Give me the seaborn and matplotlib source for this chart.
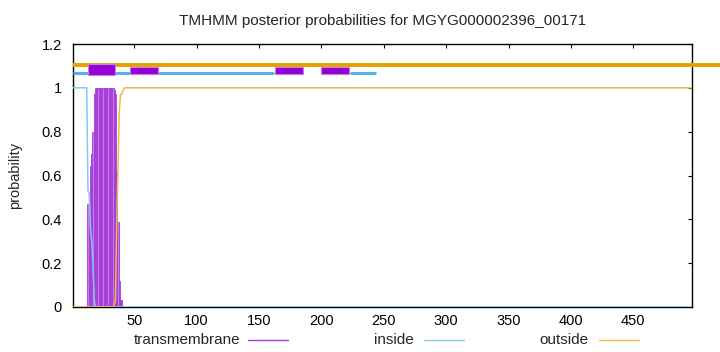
import matplotlib
matplotlib.use("Agg")
import matplotlib.pyplot as plt
from matplotlib.lines import Line2D
from matplotlib.patches import Rectangle
import seaborn as sns
import pandas as pd

# ---- data ----
title = "TMHMM posterior probabilities for MGYG000002396_00171"
seq_len = 497
residues = list(range(1, 46)) + [497]
inside = [1.0] * 12 + [0.53, 0.52, 0.355, 0.30, 0.20, 0.03] + [0.0] * 27 + [0.0]
transmembrane = [0.0] * 12 + [0.47, 0.47, 0.645, 0.70, 0.80, 0.97] + [1.0] * 15 + \
    [0.99, 0.97, 0.62, 0.39, 0.12, 0.03, 0.03] + [0.0] * 5 + [0.0]
outside = [0.0] * 18 + [0.0] * 15 + [0.01, 0.03, 0.38, 0.61, 0.88, 0.97, 0.97, 0.985, 1.0, 1.0, 1.0, 1.0] + [1.0]

# topology bars on top
outside_segments = [(1, 520)]
inside_segments = [(1, 162), (223, 244)]
tm_boxes = [(13, 35), (47, 69), (163, 185), (200, 222)]
tm_box_bottom = [1.060, 1.064, 1.064, 1.064]
tm_box_top = [1.110, 1.097, 1.097, 1.097]
outside_level = 1.106
inside_level = 1.068

xticks = [50, 100, 150, 200, 250, 300, 350, 400, 450]
yticks = [0, 0.2, 0.4, 0.6, 0.8, 1.0, 1.2]
ytick_labels = ["0", "0.2", "0.4", "0.6", "0.8", "1", "1.2"]
legend_labels = ["transmembrane", "inside", "outside"]

# ---- style ----
sns.set_style("white")
plt.rcParams["font.family"] = ["Liberation Sans", "DejaVu Sans"]
plt.rcParams["font.size"] = 10

c_tm_fill = "#c47ae8"
c_tm_edge = "#a23ad8"
c_inside = "#86c8ee"
c_outside = "#f2b84a"
c_out_top = "#e69f00"
c_in_top = "#56b4e9"
c_box = "#9400d3"

fig = plt.figure(figsize=(7.2, 3.52), dpi=100)
ax = fig.add_axes([73 / 720, 1 - 307 / 352, (692 - 73) / 720, (307 - 44) / 352])

df = pd.DataFrame({"residue": residues, "inside": inside,
                   "transmembrane": transmembrane, "outside": outside})

# TM posterior as per-residue bars
tm_df = df[df["residue"] <= 45]
ax.bar(tm_df["residue"], tm_df["transmembrane"], width=1.0, color=c_tm_fill,
       edgecolor=c_tm_edge, linewidth=0.6, zorder=2)

sns.lineplot(data=df, x="residue", y="inside", ax=ax, color=c_inside, lw=1.1, zorder=3)
sns.lineplot(data=df, x="residue", y="outside", ax=ax, color=c_outside, lw=1.1, zorder=3)

# topology lines on top
for s, e in outside_segments:
    ax.plot([s, e], [outside_level, outside_level], color=c_out_top, lw=2.8,
            solid_capstyle="butt", clip_on=False, zorder=4)
for s, e in inside_segments:
    ax.plot([s, e], [inside_level, inside_level], color=c_in_top, lw=2.2,
            solid_capstyle="butt", clip_on=False, zorder=4)
for (s, e), b, t in zip(tm_boxes, tm_box_bottom, tm_box_top):
    ax.add_patch(Rectangle((s, b), e - s, t - b, facecolor=c_box,
                           edgecolor="#c47ee6", lw=0.8, zorder=5, clip_on=False))

ax.set_xlim(1, seq_len)
ax.set_ylim(0, 1.2)
ax.set_xticks(xticks)
ax.set_yticks(yticks)
ax.set_yticklabels(ytick_labels)
ax.set_xlabel("")
ax.set_ylabel("probability", fontsize=10.5, labelpad=14)
ax.tick_params(direction="in", length=3, width=0.8, top=True, right=True,
               labelsize=10.5, colors="black")
ax.tick_params(axis="x", pad=5)
ax.tick_params(axis="y", pad=8)
for sp in ax.spines.values():
    sp.set_visible(True)
    sp.set_color("black")
    sp.set_linewidth(1.0)

ax.set_title(title, fontsize=11, pad=14)

# legend under the axis (gnuplot style)
leg_y = 1 - 340 / 352
leg_cols = [c_tm_edge, c_inside, c_outside]
text_right = [240, 414, 589]
line_start = [248, 424, 599]
for lab, col, tr, ls in zip(legend_labels, leg_cols, text_right, line_start):
    fig.text(tr / 720, leg_y, lab, ha="right", va="center", fontsize=11)
    fig.add_artist(Line2D([ls / 720, (ls + 40) / 720], [leg_y, leg_y],
                          color=col, lw=1.0, transform=fig.transFigure))

fig.savefig("out.png", dpi=100)
